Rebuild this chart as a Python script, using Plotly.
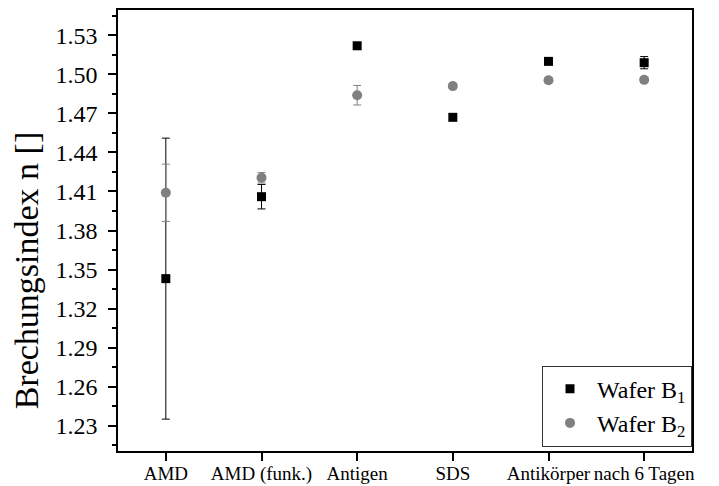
import plotly.graph_objects as go

categories = ["AMD", "AMD (funk.)", "Antigen", "SDS", "Antikörper", "nach 6 Tagen"]
b1_values = [1.343, 1.406, 1.522, 1.467, 1.510, 1.509]
b1_errors = [0.108, 0.0094, 0.002, 0.002, 0.002, 0.0047]
b2_values = [1.409, 1.4205, 1.484, 1.491, 1.4955, 1.4958]
b2_errors = [0.022, 0.004, 0.0075, 0.002, 0.002, 0.002]

FONT = "Liberation Serif, Times New Roman, serif"

fig = go.Figure()
fig.add_trace(go.Scatter(
    x=categories, y=b1_values, mode="markers", name="Wafer B<sub>1</sub>",
    marker=dict(symbol="square", size=9, color="black"),
    error_y=dict(type="data", array=b1_errors, visible=True, color="black", thickness=1, width=4),
))
fig.add_trace(go.Scatter(
    x=categories, y=b2_values, mode="markers", name="Wafer B<sub>2</sub>",
    marker=dict(symbol="circle", size=10, color="#808080"),
    error_y=dict(type="data", array=b2_errors, visible=True, color="#808080", thickness=1, width=4),
))

fig.update_layout(
    width=719, height=486,
    margin=dict(l=118, r=27, t=10, b=35, autoexpand=False),
    paper_bgcolor="white", plot_bgcolor="white",
    font=dict(family=FONT, color="black"),
    showlegend=True,
    legend=dict(
        x=1, y=0.01, xanchor="right", yanchor="bottom",
        bordercolor="#333333", borderwidth=1, bgcolor="white",
        font=dict(family=FONT, size=24, color="black"),
        itemsizing="trace", itemwidth=44,
    ),
    xaxis=dict(
        type="category", range=[-0.5, 5.5], automargin=False,
        showline=True, linecolor="black", linewidth=1.5, mirror=True,
        ticks="outside", ticklen=8, tickwidth=1.5, tickcolor="black",
        ticklabelstandoff=-4,
        tickfont=dict(family=FONT, size=19, color="black"),
        showgrid=False, zeroline=False,
    ),
    yaxis=dict(
        range=[1.2105, 1.5495], automargin=False,
        tick0=1.23, dtick=0.03, tickformat=".2f",
        showline=True, linecolor="black", linewidth=1.5, mirror=True,
        ticks="outside", ticklen=8, tickwidth=1.5, tickcolor="black",
        ticklabelstandoff=6,
        tickfont=dict(family=FONT, size=24, color="black"),
        minor=dict(ticks="outside", ticklen=4, tickwidth=1.5, tickcolor="black", dtick=0.015, tick0=1.215),
        showgrid=False, zeroline=False,
    ),
    annotations=[dict(
        text="Brechungsindex n []", textangle=-90,
        xref="paper", yref="paper", x=-0.16, y=0.41,
        xanchor="center", yanchor="middle", showarrow=False,
        font=dict(family=FONT, size=34, color="black"),
    )],
)

fig.write_html(
    "out.html",
    config={"displayModeBar": False},
    post_script="document.body.style.margin='0';document.body.style.padding='0';",
)
